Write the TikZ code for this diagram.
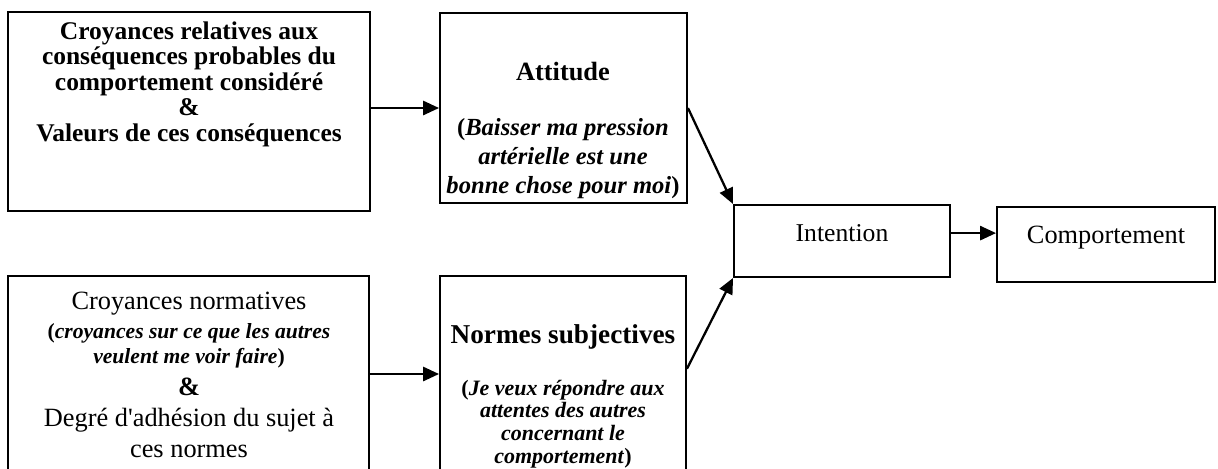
\documentclass[tikz,border=0pt]{standalone}
\usepackage{fontspec}
\setmainfont{Liberation Serif}
\usetikzlibrary{arrows.meta}

\tikzset{
	box/.style 2 args={draw, line width=1.1pt, inner sep=0pt, minimum width=#1*0.02cm, minimum height=#2*0.02cm},
	txt/.style={align=center, inner sep=0pt},
	arr/.style={line width=1.3pt, -{Triangle[length=9pt, width=8pt]}}
}

\begin{document}
\begin{tikzpicture}[x=0.02cm, y=-0.02cm]
			%%%%% START %%%%%
			\useasboundingbox (0, 0) rectangle (1218, 468);
			\clip (0, 0) rectangle (1218, 468);
			
			% boxes
			\node[box={362}{199}] (croy) at (189, 111.5) {};
			\node[box={247}{190}] (att) at (563.5, 108) {};
			\node[box={361}{196}] (croyn) at (188.5, 374) {};
			\node[box={246}{196}] (norm) at (563, 374) {};
			\node[box={216}{72}] (int) at (842, 241) {};
			\node[box={218}{75}] (comp) at (1106, 244.5) {};
			
			% texts
			\node[txt, font=\fontsize{14.5}{14.5}\selectfont\bfseries] (croytxt) at (189, 84) {Croyances relatives aux\\conséquences probables du\\comportement considéré\\\&\\Valeurs de ces conséquences};
			
			\node[txt, font=\fontsize{15}{15}\selectfont\bfseries] (atttxt) at (563, 72) {Attitude};
			\node[txt, font=\fontsize{14}{16.5}\selectfont\bfseries] (attnote) at (563, 159) {(\textit{Baisser ma pression}\\\textit{artérielle est une}\\\textit{bonne chose pour moi})};
			
			\node[txt, font=\fontsize{15}{15}\selectfont] (croyntxt) at (189, 304) {Croyances normatives};
			\node[txt, font=\fontsize{12.3}{14.2}\selectfont\bfseries] (croynnote) at (189, 346) {(\textit{croyances sur ce que les autres}\\\textit{veulent me voir faire})};
			\node[txt, font=\fontsize{15}{15}\selectfont\bfseries] (croynamp) at (189, 387) {\&};
			\node[txt, font=\fontsize{15}{17.6}\selectfont] (croyndeg) at (189, 433) {Degré d\textquotesingle adhésion du sujet à\\ces normes};
			
			\node[txt, font=\fontsize{15.5}{15.5}\selectfont\bfseries] (normtxt) at (563, 337) {Normes subjectives};
			\node[txt, font=\fontsize{12.5}{13}\selectfont\bfseries] (normnote) at (563, 424) {(\textit{Je veux répondre aux}\\\textit{attentes des autres}\\\textit{concernant le}\\\textit{comportement})};
			
			\node[txt, font=\fontsize{14.6}{14.6}\selectfont] (inttxt) at (842, 233) {Intention};
			\node[txt, font=\fontsize{15}{15}\selectfont] (comptxt) at (1106, 238) {Comportement};
			
			% arrows
			\draw[arr] (croy.east |- att.west) -- (att.west);
			\draw[arr] (croyn.east) -- (norm.west);
			\draw[arr] (att.east) -- (int.north west);
			\draw[arr] ([yshift=3pt]norm.east) -- (int.south west);
			\draw[arr] ([yshift=4.5pt]int.east) -- ([yshift=4.5pt]int.east -| comp.west);
			%%%%% END %%%%%
		\end{tikzpicture}
\end{document}
